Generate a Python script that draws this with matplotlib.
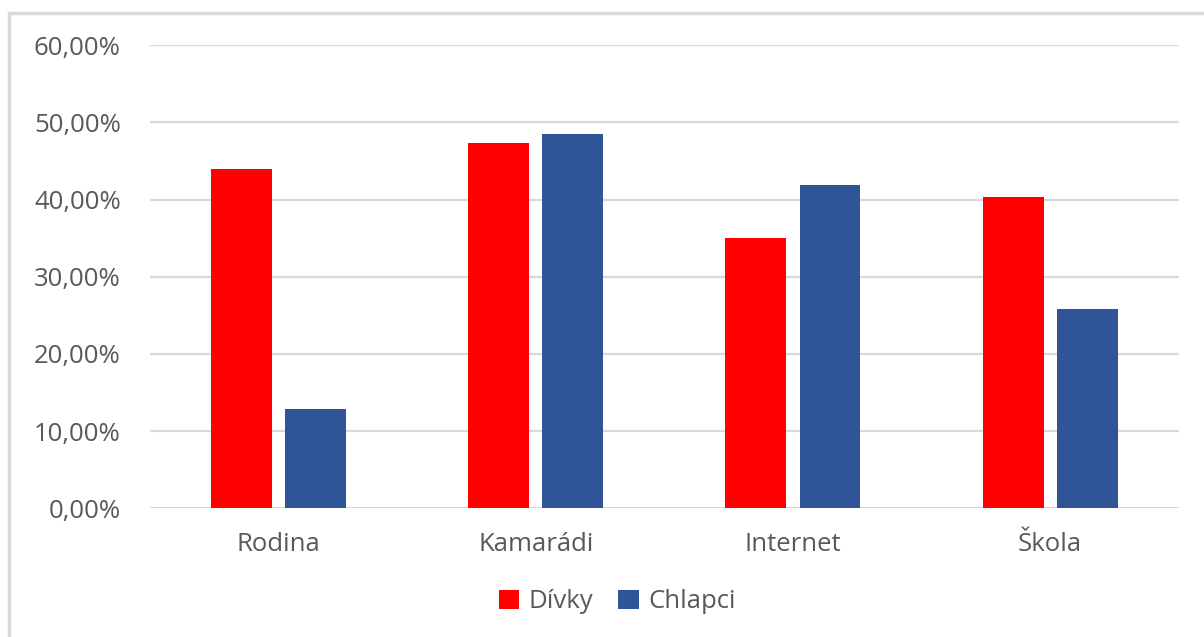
import numpy as np
import matplotlib.pyplot as plt
from matplotlib.patches import Rectangle
from matplotlib.ticker import FuncFormatter

# zdroje informací podle pohlaví
kategorie = ['Rodina', 'Kamarádi', 'Internet', 'Škola']
divky = [0.440, 0.474, 0.350, 0.403]
chlapci = [0.129, 0.485, 0.419, 0.258]

text_color = '#595959'
grid_color = '#d9d9d9'

plt.rcParams['font.family'] = ['Open Sans', 'DejaVu Sans']

fig = plt.figure(figsize=(12.04, 6.37), dpi=100)
ax = fig.add_axes([0.1246, 0.202, 0.9790 - 0.1246, 0.7269])

# light frame around the chart area (runs off the right and bottom edge)
fig.patches.append(Rectangle((9 / 1204, -0.05), 1.2, 1 - 13 / 637 + 0.05,
                             transform=fig.transFigure, fill=False,
                             edgecolor=grid_color, linewidth=2.5))

x = np.arange(len(kategorie))
w = 0.237
off = 0.144
ax.bar(x - off, divky, w, color='#ff0000', label='Dívky', zorder=3)
ax.bar(x + off, chlapci, w, color='#2f5597', label='Chlapci', zorder=3)

ax.set_xlim(-0.5, len(kategorie) - 0.5)
ax.set_ylim(0, 0.6)
ax.set_yticks(np.arange(0, 0.61, 0.1))
ax.yaxis.set_major_formatter(FuncFormatter(lambda v, p: f'{v * 100:.2f}%'.replace('.', ',')))
ax.set_xticks(x)
ax.set_xticklabels(kategorie)

ax.grid(axis='y', color=grid_color, linewidth=1.6, zorder=0)
ax.tick_params(axis='both', length=0, colors=text_color, labelsize=18.5)
ax.tick_params(axis='y', pad=21)
ax.tick_params(axis='x', pad=17)
for s in ax.spines.values():
    s.set_visible(False)

ax.legend(loc='center', bbox_to_anchor=(617 / 1204, 1 - 602 / 637),
          bbox_transform=fig.transFigure, ncol=2, frameon=False,
          fontsize=18.5, labelcolor=text_color, handlelength=0.8,
          handleheight=0.8, handletextpad=0.35, columnspacing=1.0)

fig.savefig('out.png', dpi=100)
